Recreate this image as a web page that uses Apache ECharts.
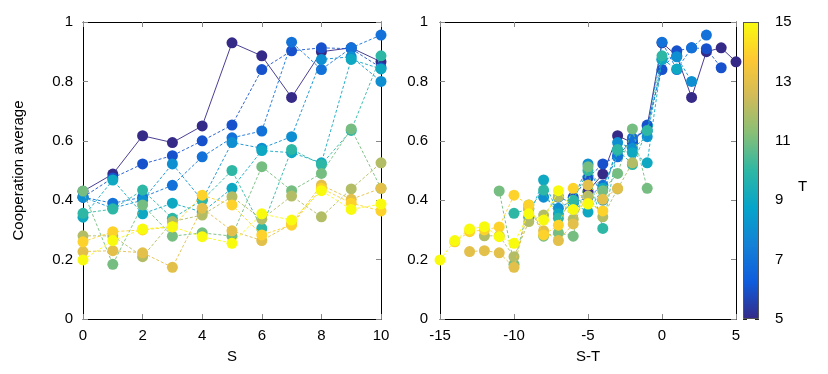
<!DOCTYPE html>
<html>
<head>
<meta charset="utf-8">
<script src="https://cdn.jsdelivr.net/npm/echarts@6/dist/echarts.min.js"></script>
<style>
  html, body { margin: 0; padding: 0; background: #fff; }
  #chart { width: 828px; height: 374px; }
</style>
</head>
<body>
<div id="chart"></div>
<script>
// S values on the x axis of the left panel, T values for the colour bar
const sValues = [0, 1, 2, 3, 4, 5, 6, 7, 8, 9, 10]
const tValues = [5, 6, 7, 8, 9, 10, 11, 12, 13, 14, 15]

// cooperation average for each T, indexed by S = 0..10
const coopT5 = [0.43, 0.488, 0.617, 0.594, 0.65, 0.93, 0.886, 0.746, 0.90, 0.913, 0.866]
const coopT6 = [0.41, 0.475, 0.522, 0.55, 0.60, 0.653, 0.84, 0.903, 0.913, 0.91, 0.846]
const coopT7 = [0.41, 0.39, 0.41, 0.45, 0.546, 0.61, 0.633, 0.932, 0.84, 0.913, 0.956]
const coopT8 = [0.41, 0.373, 0.40, 0.522, 0.40, 0.594, 0.575, 0.614, 0.874, 0.883, 0.80]
const coopT9 = [0.343, 0.468, 0.354, 0.39, 0.36, 0.44, 0.567, 0.56, 0.526, 0.874, 0.842]
const coopT10 = [0.356, 0.37, 0.434, 0.339, 0.40, 0.50, 0.305, 0.571, 0.52, 0.635, 0.886]
const coopT11 = [0.431, 0.184, 0.384, 0.279, 0.29, 0.279, 0.513, 0.432, 0.49, 0.64, 0.44]
const coopT12 = [0.28, 0.28, 0.21, 0.328, 0.35, 0.412, 0.336, 0.414, 0.344, 0.438, 0.526]
const coopT13 = [0.227, 0.23, 0.223, 0.174, 0.373, 0.297, 0.264, 0.32, 0.451, 0.403, 0.44]
const coopT14 = [0.26, 0.294, 0.30, 0.31, 0.417, 0.384, 0.283, 0.316, 0.44, 0.39, 0.364]
const coopT15 = [0.199, 0.264, 0.303, 0.311, 0.277, 0.255, 0.354, 0.333, 0.432, 0.369, 0.387]

const coopByT = [coopT5, coopT6, coopT7, coopT8, coopT9, coopT10, coopT11, coopT12, coopT13, coopT14, coopT15]

// parula-like colour map
const parula = ['#352a87', '#0f5cdd', '#1481d6', '#06a4ca', '#2eb7a4', '#87bf77', '#d1bb59', '#fec832', '#f9fb0e']

function hexToRgb(h) {
  return [parseInt(h.substr(1, 2), 16), parseInt(h.substr(3, 2), 16), parseInt(h.substr(5, 2), 16)]
}
function colorAt(f) {
  const pos = f * (parula.length - 1)
  const i = Math.min(Math.floor(pos), parula.length - 2)
  const k = pos - i
  const a = hexToRgb(parula[i])
  const b = hexToRgb(parula[i + 1])
  const c = a.map((v, j) => Math.round(v + (b[j] - v) * k))
  return 'rgb(' + c.join(',') + ')'
}

const font = 'Liberation Sans, Arial, sans-serif'
const labelStyle = { color: '#000', fontSize: 15, fontFamily: font }

function boxAxis(extra) {
  return Object.assign({
    type: 'value',
    axisLine: { show: true, onZero: false, lineStyle: { color: '#000', width: 1 } },
    axisTick: { show: true, inside: true, length: 5, lineStyle: { color: '#888' } },
    splitLine: { show: false },
    axisLabel: Object.assign({ show: true }, labelStyle)
  }, extra)
}

const series = []
tValues.forEach((t, ti) => {
  const col = colorAt((t - 5) / 10)
  const vals = coopByT[ti]
  const lineStyle = { color: col, width: 1, type: t === 5 ? 'solid' : [3, 2], opacity: 0.9 }
  series.push({
    type: 'line',
    xAxisIndex: 0,
    yAxisIndex: 0,
    data: sValues.map((s, i) => [s, vals[i]]),
    symbol: 'circle',
    symbolSize: 11,
    itemStyle: { color: col },
    lineStyle: lineStyle,
    z: 2 + ti
  })
  series.push({
    type: 'line',
    xAxisIndex: 2,
    yAxisIndex: 2,
    data: sValues.map((s, i) => [s - t, vals[i]]),
    symbol: 'circle',
    symbolSize: 11,
    itemStyle: { color: col },
    lineStyle: lineStyle,
    z: 2 + ti
  })
})

// colour bar
series.push({
  type: 'bar',
  xAxisIndex: 4,
  yAxisIndex: 4,
  data: [1],
  barWidth: '100%',
  silent: true,
  itemStyle: {
    borderColor: '#555',
    borderWidth: 1,
    color: new echarts.graphic.LinearGradient(0, 1, 0, 0,
      parula.map((c, i) => ({ offset: i / (parula.length - 1), color: c })))
  }
})

const chart = echarts.init(document.getElementById('chart'), null, { renderer: 'canvas' })
chart.setOption({
  animation: false,
  backgroundColor: '#fff',
  grid: [
    { left: 83, top: 22, width: 298, height: 297 },
    { left: 440, top: 22, width: 296, height: 297 },
    { left: 743, top: 22, width: 16, height: 297 }
  ],
  xAxis: [
    boxAxis({ gridIndex: 0, position: 'bottom', min: 0, max: 10, interval: 2,
      name: 'S', nameLocation: 'middle', nameGap: 30, nameTextStyle: labelStyle,
      axisLabel: Object.assign({ margin: 9 }, labelStyle) }),
    boxAxis({ gridIndex: 0, position: 'top', min: 0, max: 10, interval: 2, axisLabel: { show: false } }),
    boxAxis({ gridIndex: 1, position: 'bottom', min: -15, max: 5, interval: 5,
      name: 'S-T', nameLocation: 'middle', nameGap: 30, nameTextStyle: labelStyle,
      axisLabel: Object.assign({ margin: 9 }, labelStyle) }),
    boxAxis({ gridIndex: 1, position: 'top', min: -15, max: 5, interval: 5, axisLabel: { show: false } }),
    { type: 'category', gridIndex: 2, data: ['c'], show: false }
  ],
  yAxis: [
    boxAxis({ gridIndex: 0, position: 'left', min: 0, max: 1, interval: 0.2,
      name: 'Cooperation average', nameLocation: 'middle', nameGap: 57, nameTextStyle: labelStyle,
      axisLabel: Object.assign({ margin: 10 }, labelStyle) }),
    boxAxis({ gridIndex: 0, position: 'right', min: 0, max: 1, interval: 0.2, axisLabel: { show: false } }),
    boxAxis({ gridIndex: 1, position: 'left', min: 0, max: 1, interval: 0.2,
      axisLabel: Object.assign({ margin: 12 }, labelStyle) }),
    boxAxis({ gridIndex: 1, position: 'right', min: 0, max: 1, interval: 0.2, axisLabel: { show: false } }),
    { type: 'value', gridIndex: 2, min: 0, max: 1, show: false },
    boxAxis({ gridIndex: 2, position: 'right', min: 5, max: 15, interval: 2,
      axisLine: { show: false },
      axisTick: { show: true, inside: true, length: 4, lineStyle: { color: '#222' } },
      axisLabel: Object.assign({ margin: 16 }, labelStyle) }),
    boxAxis({ gridIndex: 2, position: 'left', min: 5, max: 15, interval: 2,
      axisLine: { show: false },
      axisTick: { show: true, inside: true, length: 4, lineStyle: { color: '#222' } },
      axisLabel: { show: false } })
  ],
  graphic: [
    { type: 'text', left: 798, top: 179, style: { text: 'T', fill: '#000', font: '15px ' + font } }
  ],
  series: series
})
</script>
</body>
</html>
